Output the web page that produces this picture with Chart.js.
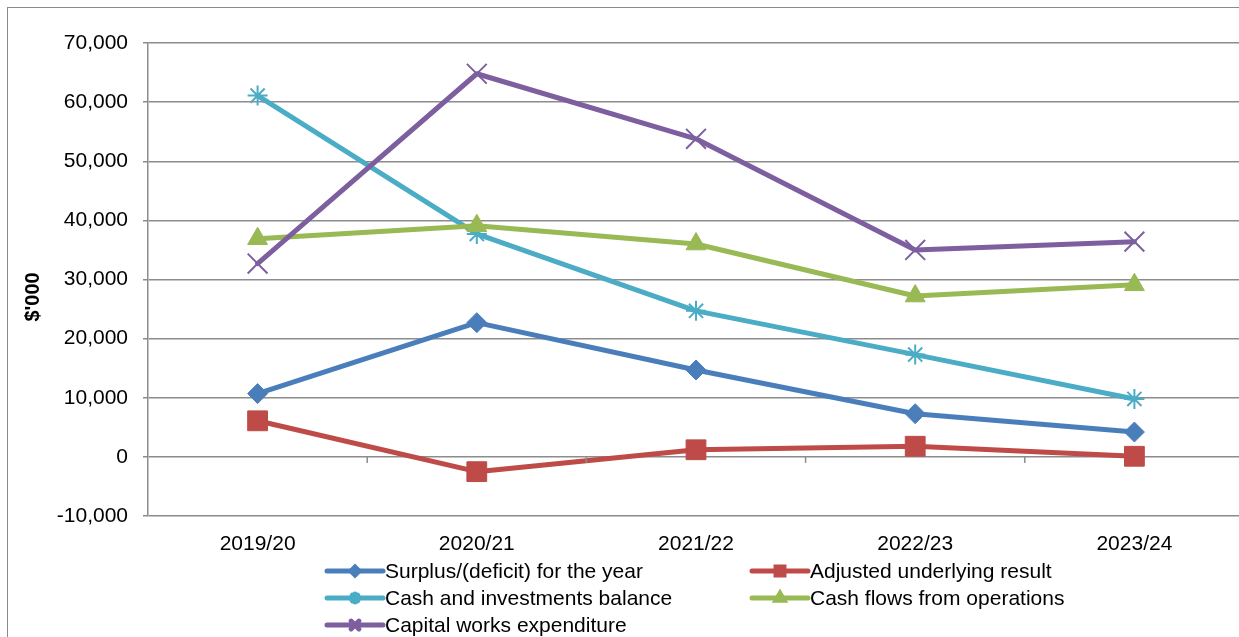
<!DOCTYPE html>
<html>
<head>
<meta charset="utf-8">
<script src="https://cdn.jsdelivr.net/npm/chart.js@4"></script>
<style>
    body { margin: 0; background: #fff; overflow: hidden; }
    #wrap { position: relative; width: 1260px; height: 637px; }
    #frame { position: absolute; left: 7px; top: 7px; width: 1300px; height: 700px; border: 1.5px solid #8a8a8a; }
    canvas { position: absolute; left: 0; top: 0; }
</style>
</head>
<body>
<div id="wrap">
    <div id="frame"></div>
    <canvas id="chart" width="1260" height="637"></canvas>
</div>
<script>
// values in $'000
const years = ['2019/20', '2020/21', '2021/22', '2022/23', '2023/24'];
const surplus = [10700, 22700, 14700, 7300, 4200];
const adjustedResult = [6100, -2500, 1200, 1800, 100];
const cashBalance = [61100, 37700, 24700, 17300, 9800];
const cashFlows = [36900, 39100, 36000, 27200, 29100];
const capitalWorks = [32700, 64800, 53800, 35000, 36400];
const yTicks = [-10000, 0, 10000, 20000, 30000, 40000, 50000, 60000, 70000];
const yTitle = "$'000";

const FONT = '"Liberation Sans", Arial, sans-serif';
const GRID = '#8c8c8c';

function series(label, data, color, style, radius, order) {
    return {
        label: label,
        data: data,
        borderColor: color,
        backgroundColor: color,
        borderWidth: 5,
        pointStyle: style,
        pointRadius: radius,
        pointHoverRadius: radius,
        pointBorderColor: color,
        pointBackgroundColor: color,
        pointBorderWidth: (style === 'star' || style === 'crossRot') ? 2 : 1,
        borderJoinStyle: 'round',
        borderCapStyle: 'round',
        tension: 0,
        order: order
    };
}

// axis title, tick marks on the zero line and the two column legend
const extras = {
    id: 'extras',
    afterDraw(chart) {
        const ctx = chart.ctx;
        const x = chart.scales.x;
        const y = chart.scales.y;
        const y0 = y.getPixelForValue(0);

        ctx.save();
        ctx.strokeStyle = GRID;
        ctx.lineWidth = 1.5;
        for (let i = 0; i < years.length - 1; i++) {
            const bx = (x.getPixelForValue(i) + x.getPixelForValue(i + 1)) / 2;
            ctx.beginPath();
            ctx.moveTo(bx, y0);
            ctx.lineTo(bx, y0 + 6);
            ctx.stroke();
        }

        // rotated y title
        ctx.save();
        ctx.translate(33, 297);
        ctx.rotate(-Math.PI / 2);
        ctx.font = 'bold 20px ' + FONT;
        ctx.fillStyle = '#000';
        ctx.textAlign = 'center';
        ctx.textBaseline = 'middle';
        ctx.fillText(yTitle, 0, 0);
        ctx.restore();

        const cols = [327, 752];
        const rows = [571, 598, 625];
        ctx.font = '21px ' + FONT;
        ctx.textBaseline = 'middle';
        ctx.textAlign = 'left';
        chart.data.datasets.forEach(function (ds, i) {
            const lx = cols[i % 2];
            const ly = rows[Math.floor(i / 2)];
            ctx.strokeStyle = ds.borderColor;
            ctx.fillStyle = ds.borderColor;
            ctx.lineWidth = 5;
            ctx.lineCap = 'round';
            ctx.beginPath();
            ctx.moveTo(lx, ly);
            ctx.lineTo(lx + 56, ly);
            ctx.stroke();
            Chart.helpers.drawPoint(ctx, {
                pointStyle: ds.pointStyle,
                radius: ds.pointRadius * 0.4,
                borderWidth: ds.pointBorderWidth,
                rotation: 0
            }, lx + 28, ly);
            ctx.fillStyle = '#000';
            ctx.fillText(ds.label, lx + 58, ly + 1);
        });
        ctx.restore();
    }
};

const chart = new Chart(document.getElementById('chart').getContext('2d'), {
    type: 'line',
    data: {
        labels: years,
        datasets: [
            series('Surplus/(deficit) for the year', surplus, '#4a7ebb', 'rectRot', 10, 5),
            series('Adjusted underlying result', adjustedResult, '#be4b48', 'rect', 14, 4),
            series('Cash and investments balance', cashBalance, '#4bacc6', 'star', 10, 3),
            series('Cash flows from operations', cashFlows, '#98b954', 'triangle', 11.5, 2),
            series('Capital works expenditure', capitalWorks, '#7d5fa0', 'crossRot', 14, 1)
        ]
    },
    options: {
        responsive: false,
        animation: false,
        layout: { padding: { top: 43, right: 6, bottom: 76, left: 0 } },
        plugins: {
            legend: { display: false },
            tooltip: { enabled: false }
        },
        scales: {
            x: {
                offset: true,
                grid: { display: false },
                border: { display: false },
                ticks: { color: '#000', padding: 8, font: { family: FONT, size: 21 } },
                afterFit: function (scale) { scale.height = 45; }
            },
            y: {
                min: -10000,
                max: 70000,
                afterBuildTicks: function (scale) {
                    scale.ticks = yTicks.map(function (v) { return { value: v }; });
                },
                grid: { color: GRID, lineWidth: 1.5, tickLength: 5 },
                border: { display: true, color: GRID, width: 1.5 },
                ticks: {
                    color: '#000',
                    padding: 15,
                    font: { family: FONT, size: 21 },
                    callback: function (v) { return v.toLocaleString('en-US'); }
                },
                afterFit: function (scale) { scale.width = 148; }
            }
        }
    },
    plugins: [extras]
});
</script>
</body>
</html>
